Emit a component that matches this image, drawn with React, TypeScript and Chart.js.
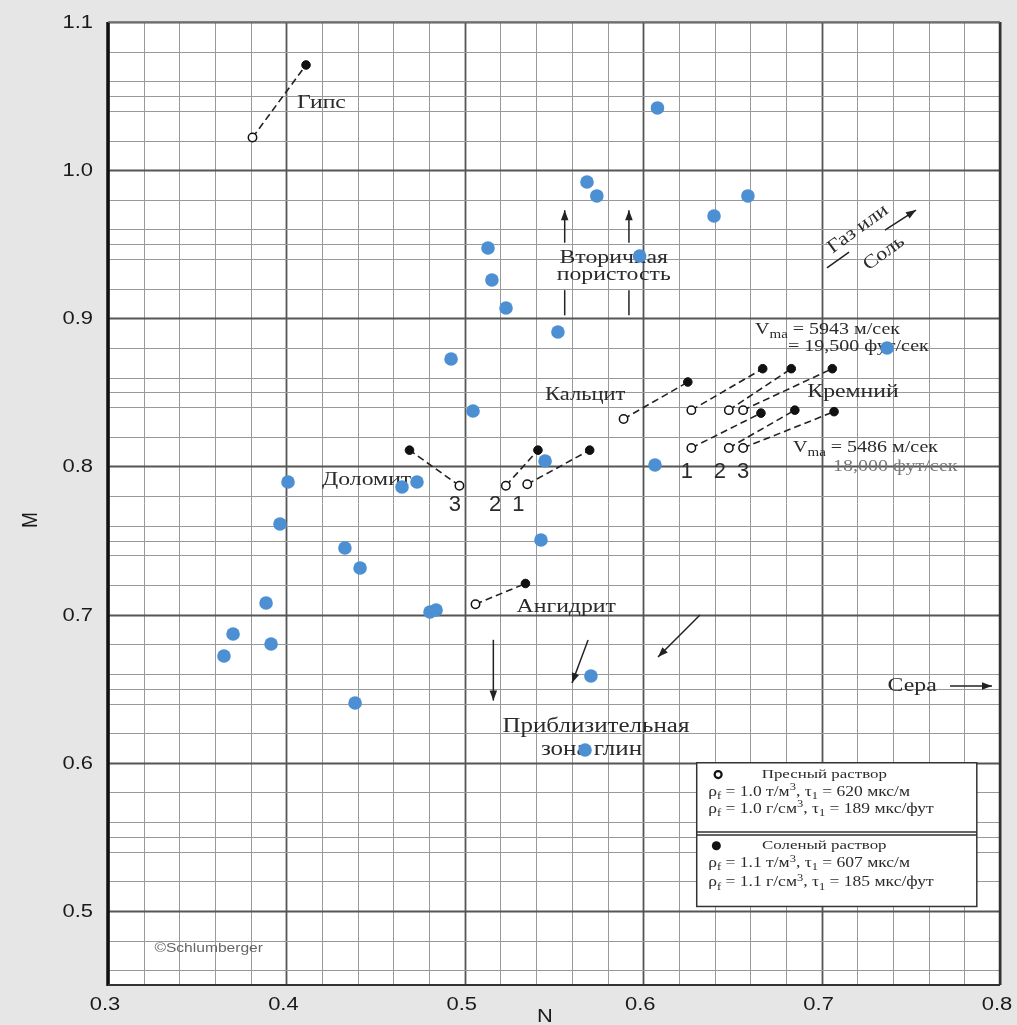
import React, { useEffect, useRef } from 'react';
import { Chart, registerables } from 'chart.js';

Chart.register(...registerables);

// ---------- DATA ----------
const xTicks = [0.3, 0.4, 0.5, 0.6, 0.7, 0.8];
const yTicks = [0.5, 0.6, 0.7, 0.8, 0.9, 1.0, 1.1];

// blue sample points (N, M)
const sampleN = [0.608, 0.5685, 0.574, 0.6397, 0.6587, 0.598, 0.513, 0.5152, 0.5231, 0.5522, 0.4923, 0.5046, 0.7367, 0.545, 0.6066, 0.4009, 0.4648, 0.4732, 0.3964, 0.4328, 0.4413, 0.5427, 0.3886, 0.3701, 0.365, 0.3914, 0.4805, 0.4839, 0.4385, 0.5707, 0.5674];
const sampleM = [1.042, 0.992, 0.9826, 0.9691, 0.9826, 0.9421, 0.9475, 0.9259, 0.907, 0.8908, 0.8725, 0.8374, 0.88, 0.8037, 0.801, 0.7895, 0.7861, 0.7895, 0.7612, 0.745, 0.7315, 0.7504, 0.7078, 0.6869, 0.6721, 0.6802, 0.7018, 0.7031, 0.6403, 0.6586, 0.6086];

// mineral points: fresh-mud (open) and salt-mud (filled)
const pairNames = ['Гипс', 'Доломит 3', 'Доломит 2', 'Доломит 1', 'Ангидрит', 'Кальцит', 'Кремний 1 (5943)', 'Кремний 2 (5943)', 'Кремний 3 (5943)', 'Кремний 1 (5486)', 'Кремний 2 (5486)', 'Кремний 3 (5486)'];
const freshN = [0.381, 0.497, 0.523, 0.535, 0.506, 0.589, 0.627, 0.648, 0.656, 0.627, 0.648, 0.656];
const freshM = [1.022, 0.787, 0.787, 0.788, 0.707, 0.832, 0.838, 0.838, 0.838, 0.8125, 0.8125, 0.8125];
const saltN = [0.411, 0.469, 0.541, 0.570, 0.534, 0.625, 0.667, 0.683, 0.706, 0.666, 0.685, 0.707];
const saltM = [1.071, 0.811, 0.811, 0.811, 0.721, 0.857, 0.866, 0.866, 0.866, 0.836, 0.838, 0.837];

// ---------- ANNOTATIONS (data coordinates) ----------
type Ann = { t: string; n: number; m: number; size: number; align: CanvasTextAlign; rot?: number; sans?: boolean; color?: string; sx?: number };
const annotations: Ann[] = [
  { t: 'Гипс', n: 0.406, m: 1.045, size: 19, align: 'left' },
  { t: 'Вторичная', n: 0.5835, m: 0.941, size: 19, align: 'center' },
  { t: 'пористость', n: 0.5835, m: 0.929, size: 19, align: 'center' },
  { t: 'Кальцит', n: 0.545, m: 0.848, size: 18, align: 'left' },
  { t: 'Кремний', n: 0.692, m: 0.850, size: 19, align: 'left' },
  { t: 'Доломит', n: 0.420, m: 0.791, size: 19, align: 'left' },
  { t: 'Ангидрит', n: 0.529, m: 0.705, size: 19, align: 'left' },
  { t: 'Приблизительная', n: 0.5735, m: 0.624, size: 20, align: 'center' },
  { t: 'зона глин', n: 0.571, m: 0.609, size: 20, align: 'center' },
  { t: 'Сера', n: 0.737, m: 0.652, size: 19, align: 'left' },
  { t: 'Газ или', n: 0.7204, m: 0.9603, size: 19, align: 'center', rot: -36, sx: 1.15 },
  { t: 'Соль', n: 0.735, m: 0.944, size: 19, align: 'center', rot: -36, sx: 1.15 },
  { t: '1', n: 0.6245, m: 0.796, size: 22, align: 'center', sans: true, sx: 1 },
  { t: '2', n: 0.643, m: 0.796, size: 22, align: 'center', sans: true, sx: 1 },
  { t: '3', n: 0.656, m: 0.796, size: 22, align: 'center', sans: true, sx: 1 },
  { t: '3', n: 0.4945, m: 0.774, size: 22, align: 'center', sans: true, sx: 1 },
  { t: '2', n: 0.517, m: 0.774, size: 22, align: 'center', sans: true, sx: 1 },
  { t: '1', n: 0.530, m: 0.774, size: 22, align: 'center', sans: true, sx: 1 },
  { t: '= 19,500 фут/сек', n: 0.6812, m: 0.8806, size: 16, align: 'left' },
  { t: '18,000 фут/сек', n: 0.7064, m: 0.800, size: 16, align: 'left', color: '#777' },
  { t: '©Schlumberger', n: 0.326, m: 0.475, size: 13, align: 'left', sans: true, color: '#666', sx: 1.2 },
];

type Part = [string, 'n' | 'sub' | 'sup'];
type Rich = { parts: Part[]; n: number; m: number; size: number; align: CanvasTextAlign };
const richTexts: Rich[] = [
  { parts: [['V', 'n'], ['ma', 'sub'], [' = 5943 м/сек', 'n']], n: 0.6627, m: 0.892, size: 16, align: 'left' },
  { parts: [['V', 'n'], ['ma', 'sub'], [' = 5486 м/сек', 'n']], n: 0.684, m: 0.8125, size: 16, align: 'left' },
  { parts: [['Пресный раствор', 'n']], n: 0.7015, m: 0.592, size: 13.5, align: 'center' },
  { parts: [['ρ', 'n'], ['f', 'sub'], [' = 1.0 т/м', 'n'], ['3', 'sup'], [', τ', 'n'], ['1', 'sub'], [' = 620 мкс/м', 'n']], n: 0.6365, m: 0.580, size: 14, align: 'left' },
  { parts: [['ρ', 'n'], ['f', 'sub'], [' = 1.0 г/см', 'n'], ['3', 'sup'], [', τ', 'n'], ['1', 'sub'], [' = 189 мкс/фут', 'n']], n: 0.6365, m: 0.5685, size: 14, align: 'left' },
  { parts: [['Соленый раствор', 'n']], n: 0.7015, m: 0.544, size: 13.5, align: 'center' },
  { parts: [['ρ', 'n'], ['f', 'sub'], [' = 1.1 т/м', 'n'], ['3', 'sup'], [', τ', 'n'], ['1', 'sub'], [' = 607 мкс/м', 'n']], n: 0.6365, m: 0.532, size: 14, align: 'left' },
  { parts: [['ρ', 'n'], ['f', 'sub'], [' = 1.1 г/см', 'n'], ['3', 'sup'], [', τ', 'n'], ['1', 'sub'], [' = 185 мкс/фут', 'n']], n: 0.6365, m: 0.519, size: 14, align: 'left' },
];

// arrows [n1, m1, n2, m2]
const arrows: number[][] = [
  [0.556, 0.951, 0.556, 0.973],
  [0.592, 0.951, 0.592, 0.973],
  [0.7355, 0.9596, 0.7529, 0.9731],
  [0.516, 0.683, 0.516, 0.642],
  [0.5691, 0.6829, 0.5601, 0.6538],
  [0.6318, 0.6997, 0.6083, 0.6714],
  [0.772, 0.6518, 0.7955, 0.6518],
];
const segments: number[][] = [
  [0.556, 0.902, 0.556, 0.919],
  [0.592, 0.902, 0.592, 0.919],
  [0.703, 0.934, 0.7154, 0.9447],
];

const SERIF = '"Liberation Serif", "DejaVu Serif", serif';
const SANS = '"Liberation Sans", Arial, sans-serif';
const INK = '#2b2b2b';
const STRETCH = 1.25;

function drawRich(ctx: CanvasRenderingContext2D, parts: Part[], x: number, y: number, size: number, align: CanvasTextAlign) {
  const fN = `${size}px ${SERIF}`;
  const fS = `${Math.round(size * 0.72)}px ${SERIF}`;
  ctx.save();
  ctx.translate(x, y);
  ctx.scale(STRETCH, 1);
  ctx.textBaseline = 'middle';
  ctx.textAlign = 'left';
  const ws = parts.map(([t, mode]) => {
    ctx.font = mode === 'n' ? fN : fS;
    return ctx.measureText(t).width;
  });
  const total = ws.reduce((a, b) => a + b, 0);
  let cx = align === 'center' ? -total / 2 : align === 'right' ? -total : 0;
  parts.forEach(([t, mode], i) => {
    ctx.font = mode === 'n' ? fN : fS;
    const dy = mode === 'sub' ? size * 0.3 : mode === 'sup' ? -size * 0.33 : 0;
    ctx.fillText(t, cx, dy);
    cx += ws[i];
  });
  ctx.restore();
}

function drawArrow(ctx: CanvasRenderingContext2D, x1: number, y1: number, x2: number, y2: number) {
  ctx.beginPath();
  ctx.moveTo(x1, y1);
  ctx.lineTo(x2, y2);
  ctx.stroke();
  const a = Math.atan2(y2 - y1, x2 - x1);
  const L = 10, W = 3.8;
  ctx.beginPath();
  ctx.moveTo(x2, y2);
  ctx.lineTo(x2 - L * Math.cos(a) + W * Math.sin(a), y2 - L * Math.sin(a) - W * Math.cos(a));
  ctx.lineTo(x2 - L * Math.cos(a) - W * Math.sin(a), y2 - L * Math.sin(a) + W * Math.cos(a));
  ctx.closePath();
  ctx.fill();
}

const paperPlugin = {
  id: 'paper',
  beforeDraw(chart: any) {
    const ctx = chart.ctx as CanvasRenderingContext2D;
    const { left, right, top, bottom } = chart.chartArea;
    ctx.save();
    ctx.fillStyle = '#e6e6e6';
    ctx.fillRect(0, 0, chart.width, chart.height);
    ctx.fillStyle = '#ffffff';
    ctx.fillRect(left, top, right - left, bottom - top);
    ctx.restore();
  },
  beforeDatasetsDraw(chart: any) {
    const ctx = chart.ctx as CanvasRenderingContext2D;
    const xs = chart.scales.x, ys = chart.scales.y;
    const X = (v: number) => xs.getPixelForValue(v);
    const Y = (v: number) => ys.getPixelForValue(v);
    const { left, right, top, bottom } = chart.chartArea;
    ctx.save();
    // vertical grid
    for (let i = 0; i <= 25; i++) {
      const x = Math.round(X(0.3 + i * 0.02)) + 0.5;
      const major = i % 5 === 0;
      ctx.strokeStyle = major ? '#555' : '#999';
      ctx.lineWidth = major ? 1.8 : 1;
      ctx.beginPath();
      ctx.moveTo(x, top);
      ctx.lineTo(x, bottom);
      ctx.stroke();
    }
    // horizontal grid
    const hs: number[] = [];
    for (let j = 46; j <= 110; j += 2) hs.push(j);
    for (let j = 55; j <= 105; j += 10) hs.push(j);
    hs.forEach((j) => {
      const y = Math.round(Y(j / 100)) + 0.5;
      const major = j % 10 === 0;
      ctx.strokeStyle = major ? '#555' : '#999';
      ctx.lineWidth = major ? 1.8 : 1;
      ctx.beginPath();
      ctx.moveTo(left, y);
      ctx.lineTo(right, y);
      ctx.stroke();
    });
    // borders
    ctx.strokeStyle = '#111';
    ctx.lineWidth = 3.5;
    ctx.beginPath(); ctx.moveTo(left, top); ctx.lineTo(left, bottom + 1); ctx.stroke();
    ctx.lineWidth = 2.5;
    ctx.strokeStyle = '#333';
    ctx.beginPath(); ctx.moveTo(right, top); ctx.lineTo(right, bottom); ctx.stroke();
    ctx.lineWidth = 2;
    ctx.beginPath(); ctx.moveTo(left, bottom); ctx.lineTo(right, bottom); ctx.stroke();
    ctx.strokeStyle = '#777';
    ctx.lineWidth = 1.5;
    ctx.beginPath(); ctx.moveTo(left, top); ctx.lineTo(right, top); ctx.stroke();

    // legend box
    const bx1 = X(0.630), bx2 = X(0.787), by1 = Y(0.600), by2 = Y(0.503);
    ctx.fillStyle = '#fff';
    ctx.fillRect(bx1, by1, bx2 - bx1, by2 - by1);
    ctx.strokeStyle = '#333';
    ctx.lineWidth = 1.5;
    ctx.strokeRect(bx1, by1, bx2 - bx1, by2 - by1);
    ctx.beginPath();
    ctx.moveTo(bx1, Y(0.5533)); ctx.lineTo(bx2, Y(0.5533));
    ctx.moveTo(bx1, Y(0.5513)); ctx.lineTo(bx2, Y(0.5513));
    ctx.stroke();
    // legend markers
    ctx.beginPath();
    ctx.arc(X(0.642), Y(0.592), 3.5, 0, Math.PI * 2);
    ctx.lineWidth = 2.2;
    ctx.strokeStyle = '#111';
    ctx.stroke();
    ctx.beginPath();
    ctx.arc(X(0.641), Y(0.544), 4.5, 0, Math.PI * 2);
    ctx.fillStyle = '#111';
    ctx.fill();

    // text annotations
    annotations.forEach((a) => {
      ctx.save();
      ctx.fillStyle = a.color || INK;
      ctx.font = `${a.size}px ${a.sans ? SANS : SERIF}`;
      ctx.textAlign = a.align;
      ctx.textBaseline = 'middle';
      ctx.translate(X(a.n), Y(a.m));
      if (a.rot) ctx.rotate((a.rot * Math.PI) / 180);
      const sx = a.sx ?? STRETCH;
      ctx.scale(sx, 1);
      ctx.fillText(a.t, 0, 0);
      ctx.restore();
    });
    ctx.fillStyle = INK;
    richTexts.forEach((r) => drawRich(ctx, r.parts, X(r.n), Y(r.m), r.size, r.align));

    // arrows and strokes
    ctx.strokeStyle = '#222';
    ctx.fillStyle = '#222';
    ctx.lineWidth = 1.5;
    arrows.forEach(([n1, m1, n2, m2]) => drawArrow(ctx, X(n1), Y(m1), X(n2), Y(m2)));
    segments.forEach(([n1, m1, n2, m2]) => {
      ctx.beginPath();
      ctx.moveTo(X(n1), Y(m1));
      ctx.lineTo(X(n2), Y(m2));
      ctx.stroke();
    });

    // tick labels (drawn by hand so they can be stretched like the scan)
    ctx.fillStyle = '#1a1a1a';
    ctx.font = `18px ${SANS}`;
    ctx.textBaseline = 'middle';
    yTicks.forEach((v) => {
      ctx.save();
      ctx.translate(left - 15, Y(v) + 1);
      ctx.scale(1.22, 1);
      ctx.textAlign = 'right';
      ctx.fillText(v.toFixed(1), 0, 0);
      ctx.restore();
    });
    xTicks.forEach((v) => {
      ctx.save();
      ctx.translate(X(v) - 3, bottom + 20);
      ctx.scale(1.22, 1);
      ctx.textAlign = 'center';
      ctx.fillText(v.toFixed(1), 0, 0);
      ctx.restore();
    });

    // axis titles
    ctx.font = `19px ${SANS}`;
    ctx.textAlign = 'center';
    ctx.save();
    ctx.translate(545, 1017);
    ctx.scale(1.15, 1);
    ctx.fillText('N', 0, 0);
    ctx.restore();
    ctx.save();
    ctx.translate(31, 520);
    ctx.rotate(-Math.PI / 2);
    ctx.scale(1.0, 1.15);
    ctx.fillText('M', 0, 0);
    ctx.restore();
    ctx.restore();
  },
};

export default function App() {
  const ref = useRef<HTMLCanvasElement>(null);
  useEffect(() => {
    if (!ref.current) return;
    const pairDatasets = pairNames.map((name, i) => ({
      type: 'scatter' as const,
      label: name,
      data: [
        { x: freshN[i], y: freshM[i] },
        { x: saltN[i], y: saltM[i] },
      ],
      showLine: true,
      borderColor: '#222',
      borderWidth: 1.6,
      borderDash: [7, 4],
      pointBackgroundColor: ['#ffffff', '#111111'],
      pointBorderColor: '#111',
      pointBorderWidth: [1.5, 1],
      pointRadius: [4.2, 4.3],
      order: 2,
    }));
    const chart = new Chart(ref.current, {
      type: 'scatter',
      data: {
        datasets: [
          ...pairDatasets,
          {
            label: 'Образцы',
            data: sampleN.map((n, i) => ({ x: n, y: sampleM[i] })),
            backgroundColor: '#4c8fd3',
            borderColor: '#4c8fd3',
            borderWidth: 0,
            pointRadius: 6.8,
            order: 1,
          } as any,
        ],
      },
      options: {
        responsive: false,
        animation: false,
        devicePixelRatio: 1,
        layout: { padding: { left: 0, top: 22, right: 17, bottom: 0 } },
        plugins: { legend: { display: false }, tooltip: { enabled: false } },
        scales: {
          x: {
            type: 'linear',
            min: 0.3,
            max: 0.8,
            grid: { display: false },
            border: { display: false },
            afterBuildTicks: (s: any) => { s.ticks = xTicks.map((v) => ({ value: v })); },
            afterFit: (s: any) => { s.height = 40; s.paddingLeft = 0; s.paddingRight = 0; },
            ticks: { display: false },
          },
          y: {
            type: 'linear',
            min: 0.45,
            max: 1.1,
            grid: { display: false },
            border: { display: false },
            afterBuildTicks: (s: any) => { s.ticks = yTicks.map((v) => ({ value: v })); },
            afterFit: (s: any) => { s.width = 108; s.paddingTop = 0; s.paddingBottom = 0; },
            ticks: { display: false },
          },
        },
      } as any,
      plugins: [paperPlugin],
    });
    return () => chart.destroy();
  }, []);
  return (
    <div style={{ position: 'fixed', left: 0, top: 0, width: 1017, height: 1025 }}>
      <canvas ref={ref} width={1017} height={1025} style={{ display: 'block', width: 1017, height: 1025 }} />
    </div>
  );
}
